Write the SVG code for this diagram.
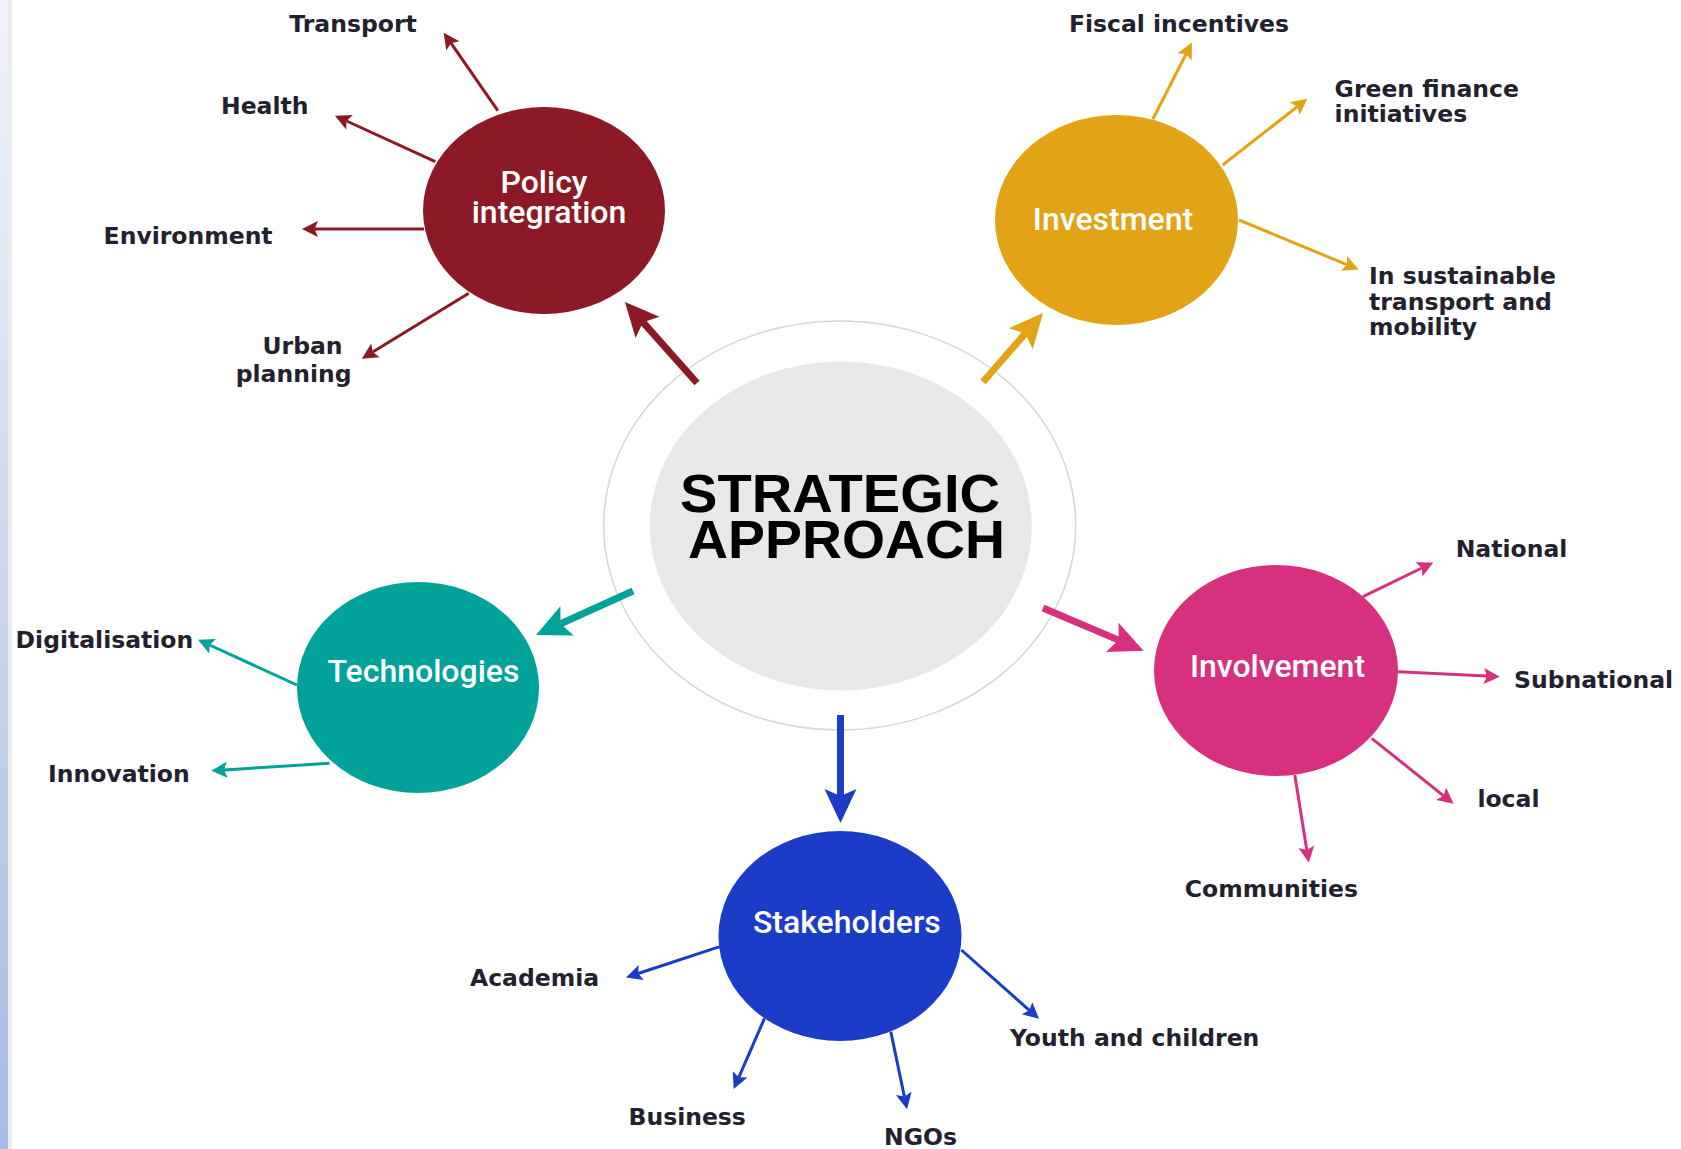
<svg xmlns="http://www.w3.org/2000/svg" width="1681" height="1149" viewBox="0 0 1681 1149">
<defs>
<linearGradient id="strip" x1="0" y1="0" x2="0" y2="1">
<stop offset="0" stop-color="#f0f3fb"/>
<stop offset="1" stop-color="#a6bbe2"/>
</linearGradient>
<marker id="bm" markerUnits="userSpaceOnUse" markerWidth="40" markerHeight="40" refX="7" refY="16" orient="auto" viewBox="0 0 40 32" overflow="visible"><path d="M34,16 L0,0 L7,16 L0,32 Z" fill="#8b1a26"/></marker>
<marker id="bg" markerUnits="userSpaceOnUse" markerWidth="40" markerHeight="40" refX="7" refY="16" orient="auto" viewBox="0 0 40 32" overflow="visible"><path d="M34,16 L0,0 L7,16 L0,32 Z" fill="#e2a416"/></marker>
<marker id="bt" markerUnits="userSpaceOnUse" markerWidth="40" markerHeight="40" refX="7" refY="16" orient="auto" viewBox="0 0 40 32" overflow="visible"><path d="M34,16 L0,0 L7,16 L0,32 Z" fill="#00a29a"/></marker>
<marker id="bp" markerUnits="userSpaceOnUse" markerWidth="40" markerHeight="40" refX="7" refY="16" orient="auto" viewBox="0 0 40 32" overflow="visible"><path d="M34,16 L0,0 L7,16 L0,32 Z" fill="#d6307f"/></marker>
<marker id="bb" markerUnits="userSpaceOnUse" markerWidth="40" markerHeight="40" refX="7" refY="16" orient="auto" viewBox="0 0 40 32" overflow="visible"><path d="M34,16 L0,0 L7,16 L0,32 Z" fill="#1a3cc6"/></marker>
<marker id="sm" markerUnits="userSpaceOnUse" markerWidth="16" markerHeight="16" refX="3" refY="7.5" orient="auto" viewBox="0 0 15 15" overflow="visible"><path d="M15,7.5 L0,0 L3,7.5 L0,15 Z" fill="#8b1a26"/></marker>
<marker id="sg" markerUnits="userSpaceOnUse" markerWidth="16" markerHeight="16" refX="3" refY="7.5" orient="auto" viewBox="0 0 15 15" overflow="visible"><path d="M15,7.5 L0,0 L3,7.5 L0,15 Z" fill="#e2a416"/></marker>
<marker id="st" markerUnits="userSpaceOnUse" markerWidth="16" markerHeight="16" refX="3" refY="7.5" orient="auto" viewBox="0 0 15 15" overflow="visible"><path d="M15,7.5 L0,0 L3,7.5 L0,15 Z" fill="#00a29a"/></marker>
<marker id="sp" markerUnits="userSpaceOnUse" markerWidth="16" markerHeight="16" refX="3" refY="7.5" orient="auto" viewBox="0 0 15 15" overflow="visible"><path d="M15,7.5 L0,0 L3,7.5 L0,15 Z" fill="#d6307f"/></marker>
<marker id="sb" markerUnits="userSpaceOnUse" markerWidth="16" markerHeight="16" refX="3" refY="7.5" orient="auto" viewBox="0 0 15 15" overflow="visible"><path d="M15,7.5 L0,0 L3,7.5 L0,15 Z" fill="#1a3cc6"/></marker>
</defs>
<style>
.lbl{font-family:"DejaVu Sans",Verdana,sans-serif;font-weight:bold;font-size:23.5px;fill:#22222e}
.nt{font-family:Roboto,"Liberation Sans",sans-serif;font-size:32px;font-weight:500;fill:#ffffff;text-anchor:middle}
.thick{stroke-width:7;fill:none}
.thin{stroke-width:3;fill:none}
.title{font-family:"Liberation Sans",Arial,sans-serif;font-weight:bold;font-size:53px;fill:#000;text-anchor:middle}
</style>
<rect x="0" y="0" width="1681" height="1149" fill="#ffffff"/>
<rect x="0" y="0" width="8" height="1149" fill="url(#strip)"/>
<rect x="8" y="0" width="4" height="1149" fill="#ececec"/>

<g id="center">
<ellipse cx="839.7" cy="525.5" rx="236" ry="204.5" fill="#ffffff" stroke="#d6d6d6" stroke-width="1.5"/>
<ellipse cx="840.8" cy="526" rx="191" ry="164.5" fill="#e8e8e8"/>
<text class="title"><tspan x="840" y="512" textLength="320" lengthAdjust="spacingAndGlyphs">STRATEGIC</tspan><tspan x="846.5" y="558" textLength="317" lengthAdjust="spacingAndGlyphs">APPROACH</tspan></text>
</g>

<g id="connectors">
<line class="thick" stroke="#8b1a26" x1="697" y1="383" x2="642.9" y2="322.2" marker-end="url(#bm)"/>
<line class="thick" stroke="#e2a416" x1="983" y1="382" x2="1025.3" y2="333.4" marker-end="url(#bg)"/>
<line class="thick" stroke="#00a29a" x1="633" y1="591" x2="560.6" y2="623.8" marker-end="url(#bt)"/>
<line class="thick" stroke="#d6307f" x1="1043" y1="608" x2="1118.7" y2="640.1" marker-end="url(#bp)"/>
<line class="thick" stroke="#1a3cc6" x1="840.5" y1="715" x2="840.5" y2="796" marker-end="url(#bb)"/>

<line class="thin" stroke="#8b1a26" x1="497.8" y1="110.7" x2="451" y2="43.2" marker-end="url(#sm)"/>
<line class="thin" stroke="#8b1a26" x1="435.3" y1="161.7" x2="346.6" y2="121" marker-end="url(#sm)"/>
<line class="thin" stroke="#8b1a26" x1="424" y1="229" x2="314.7" y2="229" marker-end="url(#sm)"/>
<line class="thin" stroke="#8b1a26" x1="468.8" y1="293.3" x2="372.7" y2="352" marker-end="url(#sm)"/>

<line class="thin" stroke="#e2a416" x1="1152.8" y1="119.3" x2="1186.1" y2="54" marker-end="url(#sg)"/>
<line class="thin" stroke="#e2a416" x1="1222.7" y1="165" x2="1297.2" y2="106.7" marker-end="url(#sg)"/>
<line class="thin" stroke="#e2a416" x1="1239" y1="220" x2="1346.9" y2="264.7" marker-end="url(#sg)"/>

<line class="thin" stroke="#00a29a" x1="296.9" y1="685" x2="209.6" y2="645" marker-end="url(#st)"/>
<line class="thin" stroke="#00a29a" x1="329.5" y1="763.3" x2="224" y2="769.9" marker-end="url(#st)"/>

<line class="thin" stroke="#d6307f" x1="1363" y1="596.7" x2="1421.8" y2="568" marker-end="url(#sp)"/>
<line class="thin" stroke="#d6307f" x1="1397.8" y1="671.7" x2="1487" y2="676.1" marker-end="url(#sp)"/>
<line class="thin" stroke="#d6307f" x1="1371.7" y1="738.3" x2="1443.6" y2="795.8" marker-end="url(#sp)"/>
<line class="thin" stroke="#d6307f" x1="1294.8" y1="775" x2="1306.8" y2="849.9" marker-end="url(#sp)"/>

<line class="thin" stroke="#1a3cc6" x1="719.7" y1="946.7" x2="638.2" y2="973.5" marker-end="url(#sb)"/>
<line class="thin" stroke="#1a3cc6" x1="764.5" y1="1018.3" x2="738.8" y2="1077.3" marker-end="url(#sb)"/>
<line class="thin" stroke="#1a3cc6" x1="890.8" y1="1031.7" x2="904.4" y2="1096.6" marker-end="url(#sb)"/>
<line class="thin" stroke="#1a3cc6" x1="961.4" y1="950" x2="1029.4" y2="1010.3" marker-end="url(#sb)"/>
</g>

<g id="policy">
<ellipse cx="544" cy="210.5" rx="121" ry="103.5" fill="#8b1a26"/>
<text class="nt"><tspan x="544" y="193">Policy</tspan><tspan x="549" y="223">integration</tspan></text>
</g>
<g id="investment">
<ellipse cx="1116.5" cy="220" rx="121.5" ry="105" fill="#e2a416"/>
<text class="nt" x="1113" y="230">Investment</text>
</g>
<g id="technologies">
<ellipse cx="418" cy="687.5" rx="121" ry="105.5" fill="#00a29a"/>
<text class="nt" x="423.5" y="682">Technologies</text>
</g>
<g id="involvement">
<ellipse cx="1276" cy="670.5" rx="122" ry="105.5" fill="#d6307f"/>
<text class="nt" x="1277.5" y="677">Involvement</text>
</g>
<g id="stakeholders">
<ellipse cx="840" cy="936" rx="121.5" ry="105" fill="#1a3cc6"/>
<text class="nt" x="846.8" y="933">Stakeholders</text>
</g>

<g id="labels">
<text class="lbl" x="289.3" y="31.7">Transport</text>
<text class="lbl" x="221" y="114">Health</text>
<text class="lbl" x="103.6" y="244">Environment</text>
<text class="lbl" x="262.5" y="354.3">Urban</text>
<text class="lbl" x="235.7" y="381.5">planning</text>
<text class="lbl" x="1068.9" y="31.7">Fiscal incentives</text>
<text class="lbl" x="1334.6" y="96.7">Green finance</text>
<text class="lbl" x="1334.6" y="122">initiatives</text>
<text class="lbl" x="1369" y="284">In sustainable</text>
<text class="lbl" x="1369" y="310">transport and</text>
<text class="lbl" x="1369" y="335">mobility</text>
<text class="lbl" x="15.6" y="648.3">Digitalisation</text>
<text class="lbl" x="48" y="781.7">Innovation</text>
<text class="lbl" x="1455.7" y="557.3">National</text>
<text class="lbl" x="1514" y="688.3">Subnational</text>
<text class="lbl" x="1477.4" y="806.7">local</text>
<text class="lbl" x="1184.8" y="896.7">Communities</text>
<text class="lbl" x="470" y="986">Academia</text>
<text class="lbl" x="628.5" y="1125">Business</text>
<text class="lbl" x="884" y="1145">NGOs</text>
<text class="lbl" x="1010" y="1046">Youth and children</text>
</g>
</svg>
